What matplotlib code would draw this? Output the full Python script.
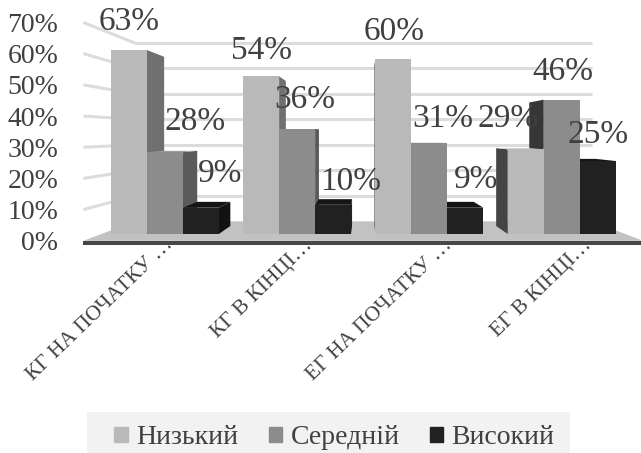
import matplotlib
matplotlib.use('Agg')
import matplotlib.pyplot as plt
from matplotlib.patches import Polygon, Patch, Rectangle

plt.rcParams['font.family'] = ['Liberation Serif', 'DejaVu Serif']

# ── Data ─────────────────────────────────────────────────────
categories = ["КГ НА ПОЧАТКУ …", "КГ В КІНЦІ…", "ЕГ НА ПОЧАТКУ …", "ЕГ В КІНЦІ…"]
series = ["Низький", "Середній", "Високий"]
low = [63, 54, 60, 29]
mid = [28, 36, 31, 46]
high = [9, 10, 9, 25]
yticks = [0, 10, 20, 30, 40, 50, 60, 70]

# ── Style ────────────────────────────────────────────────────
FRONT = ["#b9b9b9", "#8c8c8c", "#212121"]
SIDE_R = ["#707070", "#5a5a5a", "#121212"]   # right faces (left of centre)
SIDE_L = ["#444444", "#363636", "#121212"]   # left faces (right of centre)
TOP = ["#cdcdcd", "#9d9d9d", "#151515"]
TEXT = "#404040"
GRID = "#dcdcdc"

# label nudges in pixels (dx, dy above the bar top)
NUDGE_X = [[0, 0, 1, -18], [30, 8, 13, 1], [19, 18, 11, 0]]
NUDGE_Y = [[28, 26, 27, 31], [30, 29, 25, 28], [34, 23, 28, 26]]

# ── Fake 3D: coordinates live in the plane of the bar fronts and are
# scaled towards a vanishing point for the other depths ──────
VX, VY = 1.5, 34.1
R_FRONT, R_BACK, R_BAR = 1.0685, 0.8733, 0.92
X_LEFT, X_RIGHT = -0.48, 3.48
W = 0.272


def proj(x, y, r):
    return VX + (x - VX) * r, VY + (y - VY) * r


fig = plt.figure(figsize=(6.41, 4.53), dpi=100)
ax = fig.add_axes([82 / 641, 208 / 453, 559 / 641, 235 / 453])
ax.set_xlim(-0.6259, 3.5994)
ax.set_ylim(-3.767, 76.71)
for s in ax.spines.values():
    s.set_visible(False)

# walls: gridlines on the back wall and on the left wall
for t in yticks[1:]:
    bl, br = proj(X_LEFT, t, R_BACK), proj(X_RIGHT, t, R_BACK)
    fl = proj(X_LEFT, t, R_FRONT)
    ax.plot([bl[0], br[0]], [bl[1], br[1]], color=GRID, lw=2.2, zorder=1,
            solid_capstyle='butt')
    ax.plot([fl[0], bl[0]], [fl[1], bl[1]], color=GRID, lw=2.2, zorder=1,
            solid_capstyle='butt')

# floor slab
floor = [proj(X_LEFT, 0, R_FRONT), proj(X_RIGHT, 0, R_FRONT),
         proj(X_RIGHT, 0, R_BACK), proj(X_LEFT, 0, R_BACK)]
ax.add_patch(Polygon(floor, closed=True, color="#c2c2c2", lw=0, zorder=2))
edge = [proj(X_LEFT, 0, R_FRONT), proj(X_RIGHT, 0, R_FRONT),
        proj(X_RIGHT, -1.3, R_FRONT), proj(X_LEFT, -1.3, R_FRONT)]
ax.add_patch(Polygon(edge, closed=True, color="#474747", lw=0, zorder=2))

# bars, painted from the outside in so neighbours hide the side faces
bars = []
for i, vals in enumerate([low, mid, high]):
    for g, v in enumerate(vals):
        x0 = g - 1.5 * W + i * W
        bars.append((abs(x0 + W / 2 - VX), i, g, x0, v))
bars.sort(reverse=True)

for z, (_, i, g, x0, h) in enumerate(bars):
    zo = 3 + z * 0.01
    x1 = x0 + W
    if x1 < VX:
        side = [(x1, 0), (x1, h), proj(x1, h, R_BAR), proj(x1, 0, R_BAR)]
        ax.add_patch(Polygon(side, closed=True, color=SIDE_R[i], lw=0, zorder=zo))
    elif x0 > VX:
        side = [(x0, 0), (x0, h), proj(x0, h, R_BAR), proj(x0, 0, R_BAR)]
        ax.add_patch(Polygon(side, closed=True, color=SIDE_L[i], lw=0, zorder=zo))
    if h < VY:
        top = [(x0, h), (x1, h), proj(x1, h, R_BAR), proj(x0, h, R_BAR)]
        ax.add_patch(Polygon(top, closed=True, color=TOP[i], lw=0, zorder=zo))
    ax.bar(x0, h, W, align='edge', color=FRONT[i], lw=0, zorder=zo + 0.005)

# value labels
for i, vals in enumerate([low, mid, high]):
    for g, v in enumerate(vals):
        xc = g - W + i * W
        ax.annotate(f"{v}%", xy=(xc, v), xytext=(NUDGE_X[i][g], NUDGE_Y[i][g]),
                    textcoords='offset pixels', ha='center', va='center',
                    fontsize=24, color=TEXT, zorder=10)

# axis labels on the front plane
ax.set_yticks([proj(0, t, R_FRONT)[1] for t in yticks],
              [f"{t}%" for t in yticks], fontsize=20, color=TEXT)
ax.tick_params(axis='y', length=0, pad=17)
lab_x = [1.65 + (g - 1.5) * 1.056 for g in range(len(categories))]
ax.set_xticks(lab_x, categories, fontsize=15.5, color=TEXT, rotation=44,
              ha='right', va='baseline', rotation_mode='anchor')
ax.tick_params(axis='x', length=0, pad=0.5)

# legend on a light strip along the bottom edge
fig.patches.append(Rectangle((87 / 641, 0), 483 / 641, 41 / 453,
                             transform=fig.transFigure, color='#f2f2f2',
                             lw=0, zorder=0))
fig.legend(handles=[Patch(color=c) for c in FRONT], labels=series,
           loc='center', bbox_to_anchor=(334.5 / 641, 15 / 453), ncol=3,
           frameon=False, fontsize=20, handlelength=0.47, handleheight=0.47,
           handletextpad=0.32, columnspacing=1.08, borderpad=0,
           borderaxespad=0, labelcolor=TEXT)

fig.savefig("out.png", dpi=100)
